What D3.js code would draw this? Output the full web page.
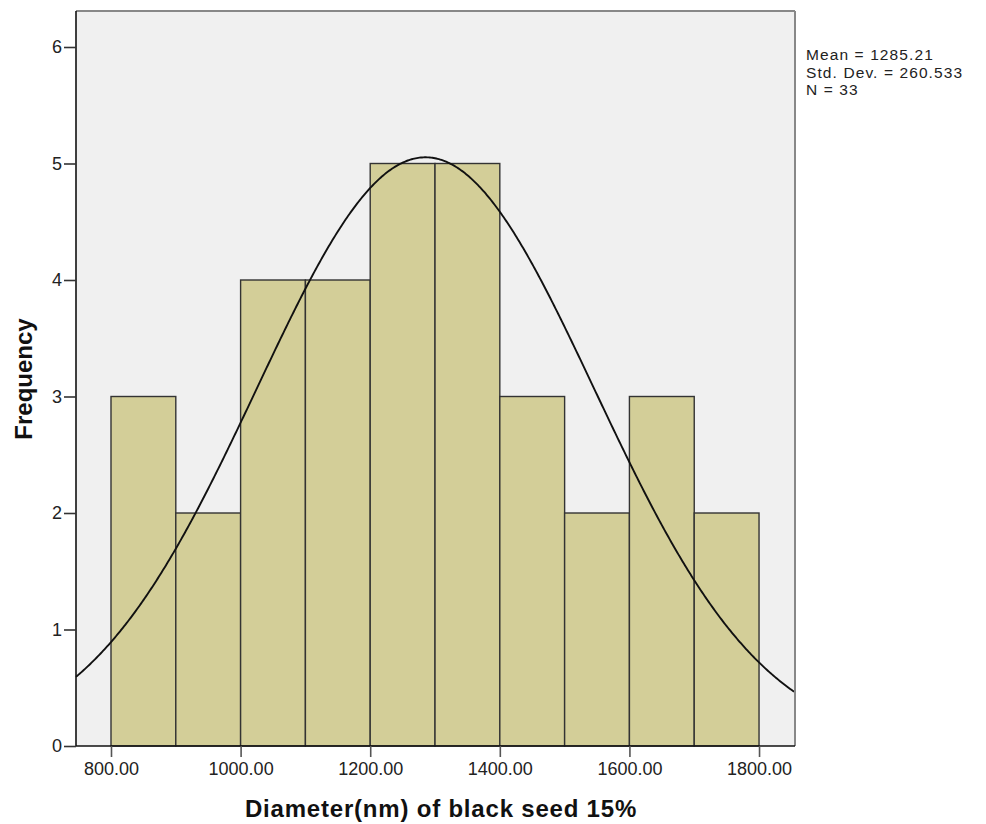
<!DOCTYPE html>
<html><head><meta charset="utf-8">
<script src="https://cdn.jsdelivr.net/npm/d3@7"></script>
<style>body{margin:0;background:#fff;} svg{display:block;}</style>
</head><body>
<svg id="chart" width="986" height="824"></svg>
<script>
const binStarts = [800, 900, 1000, 1100, 1200, 1300, 1400, 1500, 1600, 1700];
const binWidth = 100;
const frequencies = [3, 2, 4, 4, 5, 5, 3, 2, 3, 2];
const xTicks = [800, 1000, 1200, 1400, 1600, 1800];
const yTicks = [0, 1, 2, 3, 4, 5, 6];
const statsMean = 1285.21;
const statsSD = 260.533;
const statsN = 33;
const statsLines = ["Mean = 1285.21", "Std. Dev. = 260.533", "N = 33"];

const FONT = "Liberation Sans, Arial, sans-serif";
const svg = d3.select("#chart");
const L = 76, R = 795, T = 11, B = 746;
const x = d3.scaleLinear().domain([746, 1855.5]).range([L, R]);
const y = d3.scaleLinear().domain([0, 6]).range([B, 47]);

svg.append("rect").attr("x", L).attr("y", T).attr("width", R - L).attr("height", B - T)
  .attr("fill", "#f0f0f0");

svg.append("g").selectAll("rect").data(binStarts).join("rect")
  .attr("x", d => x(d)).attr("y", (d, i) => y(frequencies[i]))
  .attr("width", d => x(d + binWidth) - x(d))
  .attr("height", (d, i) => y(0) - y(frequencies[i]))
  .attr("fill", "#d3ce98").attr("stroke", "#333").attr("stroke-width", 1.4);

// normal curve defined by the displayed mean, std. dev. and N
const k = statsN * binWidth / (statsSD * Math.sqrt(2 * Math.PI));
const xs = d3.range(746, 1856, 2);
const line = d3.line().x(d => x(d)).y(d => y(k * Math.exp(-0.5 * ((d - statsMean) / statsSD) ** 2)));
svg.append("path").datum(xs).attr("d", line).attr("fill", "none")
  .attr("stroke", "#111").attr("stroke-width", 1.9);

// frame
svg.append("line").attr("x1", L).attr("x2", R).attr("y1", T).attr("y2", T).attr("stroke", "#888").attr("stroke-width", 2);
svg.append("line").attr("x1", R).attr("x2", R).attr("y1", T).attr("y2", B).attr("stroke", "#888").attr("stroke-width", 2);

const yAxis = svg.append("g").attr("transform", `translate(${L},0)`)
  .call(d3.axisLeft(y).tickValues(yTicks).tickFormat(d3.format("d")).tickSize(12).tickSizeOuter(0));
yAxis.select(".domain").attr("d", `M0,${T}V${B}`).attr("stroke", "#111").attr("stroke-width", 1.6);
yAxis.selectAll(".tick line").attr("stroke", "#333").attr("stroke-width", 1.6);
yAxis.selectAll("text").attr("font-family", FONT).attr("font-size", 18).attr("fill", "#222").attr("x", -14);

const xAxis = svg.append("g").attr("transform", `translate(0,${B})`)
  .call(d3.axisBottom(x).tickValues(xTicks).tickFormat(d3.format(".2f")).tickSize(11).tickSizeOuter(0));
xAxis.select(".domain").attr("d", `M${L},0H${R}`).attr("stroke", "#111").attr("stroke-width", 1.6);
xAxis.selectAll(".tick line").attr("stroke", "#555").attr("stroke-width", 1.6);
xAxis.selectAll("text").attr("font-family", FONT).attr("font-size", 18).attr("fill", "#222").attr("y", 16);

svg.append("text").attr("x", 441).attr("y", 817).attr("text-anchor", "middle")
  .attr("font-family", FONT).attr("font-weight", "bold").attr("font-size", 24)
  .attr("letter-spacing", 0.8).attr("fill", "#111").text("Diameter(nm) of black seed 15%");

svg.append("text").attr("transform", "translate(32,379) rotate(-90)").attr("text-anchor", "middle")
  .attr("font-family", FONT).attr("font-weight", "bold").attr("font-size", 24)
  .attr("fill", "#111").text("Frequency");

svg.append("g").selectAll("text").data(statsLines).join("text")
  .attr("x", 806).attr("y", (d, i) => 60 + i * 17.5)
  .attr("font-family", FONT).attr("font-size", 15.5).attr("letter-spacing", 1.1).attr("fill", "#222")
  .text(d => d);
</script>
</body></html>
